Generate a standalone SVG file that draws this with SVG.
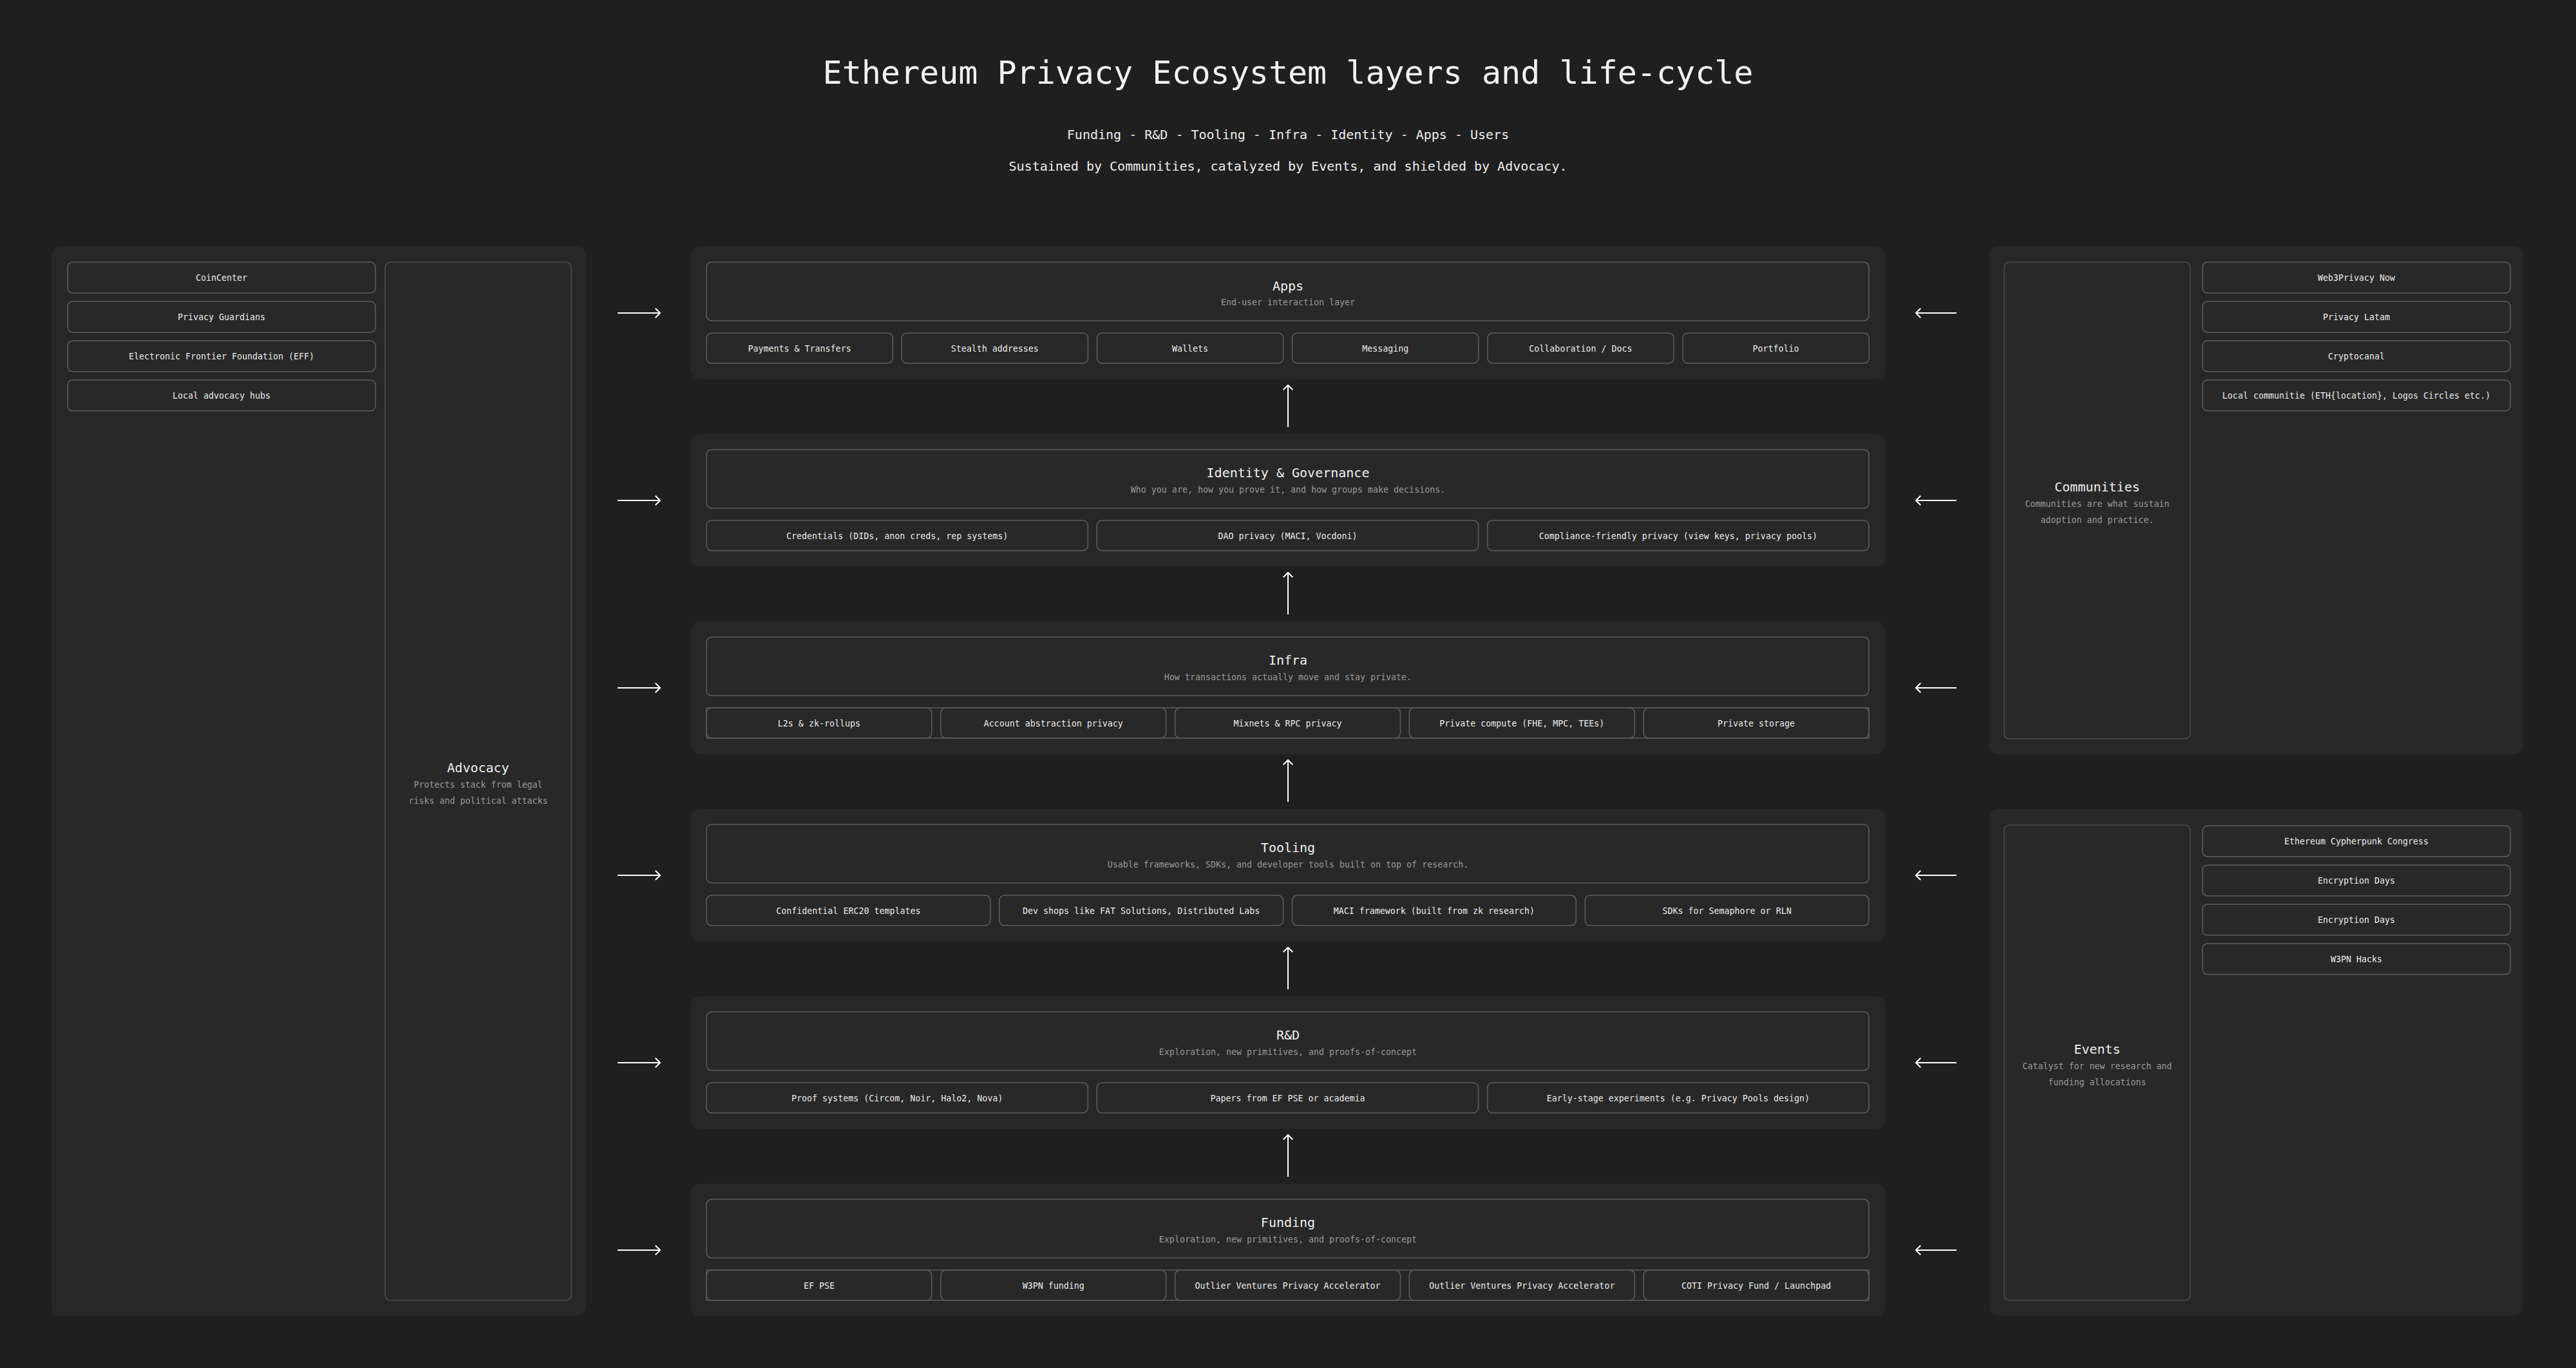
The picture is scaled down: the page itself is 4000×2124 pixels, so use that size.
<svg xmlns="http://www.w3.org/2000/svg" width="4000" height="2124" viewBox="0 0 4000 2124">
<style>
text{font-family:"DejaVu Sans Mono","Liberation Mono",monospace;}
.h1{font-size:50px;fill:#f2f2f2;text-anchor:middle;}
.sub{font-size:20px;fill:#ededed;text-anchor:middle;}
.panel{fill:#272727;}
.hbox{fill:#282828;stroke:#5e5e5e;stroke-width:1.5;}
.item{fill:#282828;stroke:#5e5e5e;stroke-width:1.5;}
.row{fill:none;stroke:#5e5e5e;stroke-width:1.5;}
.tall{fill:#282828;stroke:#595959;stroke-width:1.2;}
.lt{font-size:20px;fill:#f0f0f0;text-anchor:middle;}
.ld{font-size:13.3px;fill:#9a9a9a;text-anchor:middle;}
.it{font-size:13.3px;fill:#ececec;text-anchor:middle;}
.conn line{stroke:#ffffff;stroke-width:2;marker-end:url(#arr);}
</style>
<defs>
<marker id="arr" viewBox="0 0 10 16" refX="9.3" refY="8" markerWidth="10" markerHeight="16" markerUnits="userSpaceOnUse" orient="auto">
<path d="M2,0.7 L9.3,8 L2,15.3" fill="none" stroke="#ffffff" stroke-width="2"/>
</marker>
</defs>
<rect width="4000" height="2124" fill="#1f1f1f"/>

<g id="header">
<text class="h1" x="2000" y="130">Ethereum Privacy Ecosystem layers and life-cycle</text>
<text class="sub" x="2000" y="216">Funding - R&amp;D - Tooling - Infra - Identity - Apps - Users</text>
<text class="sub" x="2000" y="265">Sustained by Communities, catalyzed by Events, and shielded by Advocacy.</text>
</g>

<!-- Advocacy panel -->
<g id="advocacy">
<rect class="panel" x="80" y="383" width="830" height="1660" rx="14"/>
<rect class="tall" x="598" y="407" width="289" height="1612" rx="8"/>
<text class="lt" x="742.5" y="1199">Advocacy</text>
<text class="ld" x="742.5" y="1223">Protects stack from legal</text>
<text class="ld" x="742.5" y="1248">risks and political attacks</text>
<rect class="item" x="105" y="407" width="478" height="48" rx="8"/>
<text class="it" x="344" y="436">CoinCenter</text>
<rect class="item" x="105" y="468" width="478" height="48" rx="8"/>
<text class="it" x="344" y="497">Privacy Guardians</text>
<rect class="item" x="105" y="529" width="478" height="48" rx="8"/>
<text class="it" x="344" y="558">Electronic Frontier Foundation (EFF)</text>
<rect class="item" x="105" y="590" width="478" height="48" rx="8"/>
<text class="it" x="344" y="619">Local advocacy hubs</text>
</g>

<!-- Communities panel -->
<g id="communities">
<rect class="panel" x="3089" y="383" width="829" height="788" rx="14"/>
<rect class="tall" x="3112" y="407" width="289" height="740" rx="8"/>
<text class="lt" x="3256.5" y="763">Communities</text>
<text class="ld" x="3256.5" y="787">Communities are what sustain</text>
<text class="ld" x="3256.5" y="812">adoption and practice.</text>
<rect class="item" x="3420" y="407" width="478" height="48" rx="8"/>
<text class="it" x="3659" y="436">Web3Privacy Now</text>
<rect class="item" x="3420" y="468" width="478" height="48" rx="8"/>
<text class="it" x="3659" y="497">Privacy Latam</text>
<rect class="item" x="3420" y="529" width="478" height="48" rx="8"/>
<text class="it" x="3659" y="558">Cryptocanal</text>
<rect class="item" x="3420" y="590" width="478" height="48" rx="8"/>
<text class="it" x="3659" y="619">Local communitie (ETH{location}, Logos Circles etc.)</text>
</g>

<!-- Events panel -->
<g id="events">
<rect class="panel" x="3089" y="1256" width="829" height="787" rx="14"/>
<rect class="tall" x="3112" y="1281" width="289" height="738" rx="8"/>
<text class="lt" x="3256.5" y="1636">Events</text>
<text class="ld" x="3256.5" y="1660">Catalyst for new research and</text>
<text class="ld" x="3256.5" y="1685">funding allocations</text>
<rect class="item" x="3420" y="1282" width="478" height="48" rx="8"/>
<text class="it" x="3659" y="1311">Ethereum Cypherpunk Congress</text>
<rect class="item" x="3420" y="1343" width="478" height="48" rx="8"/>
<text class="it" x="3659" y="1372">Encryption Days</text>
<rect class="item" x="3420" y="1404" width="478" height="48" rx="8"/>
<text class="it" x="3659" y="1433">Encryption Days</text>
<rect class="item" x="3420" y="1465" width="478" height="48" rx="8"/>
<text class="it" x="3659" y="1494">W3PN Hacks</text>
</g>

<!-- Apps layer -->
<g id="layer-apps">
<rect class="panel" x="1073" y="383" width="1854" height="206" rx="14"/>
<rect class="hbox" x="1097" y="407" width="1805" height="91" rx="8"/>
<text class="lt" x="2000" y="451">Apps</text>
<text class="ld" x="2000" y="474">End-user interaction layer</text>
<rect class="item" x="1097" y="517" width="289.2" height="47" rx="8"/>
<text class="it" x="1241.6" y="546">Payments &amp; Transfers</text>
<rect class="item" x="1400.2" y="517" width="289.2" height="47" rx="8"/>
<text class="it" x="1544.8" y="546">Stealth addresses</text>
<rect class="item" x="1703.4" y="517" width="289.2" height="47" rx="8"/>
<text class="it" x="1848" y="546">Wallets</text>
<rect class="item" x="2006.6" y="517" width="289.2" height="47" rx="8"/>
<text class="it" x="2151.2" y="546">Messaging</text>
<rect class="item" x="2309.8" y="517" width="289.2" height="47" rx="8"/>
<text class="it" x="2454.4" y="546">Collaboration / Docs</text>
<rect class="item" x="2613" y="517" width="289.2" height="47" rx="8"/>
<text class="it" x="2757.6" y="546">Portfolio</text>
</g>

<!-- Identity layer -->
<g id="layer-identity">
<rect class="panel" x="1073" y="674" width="1854" height="206" rx="14"/>
<rect class="hbox" x="1097" y="698" width="1805" height="91" rx="8"/>
<text class="lt" x="2000" y="741">Identity &amp; Governance</text>
<text class="ld" x="2000" y="765">Who you are, how you prove it, and how groups make decisions.</text>
<rect class="item" x="1097" y="808" width="592.3" height="47" rx="8"/>
<text class="it" x="1393.2" y="837">Credentials (DIDs, anon creds, rep systems)</text>
<rect class="item" x="1703.3" y="808" width="592.3" height="47" rx="8"/>
<text class="it" x="1999.5" y="837">DAO privacy (MACI, Vocdoni)</text>
<rect class="item" x="2309.7" y="808" width="592.3" height="47" rx="8"/>
<text class="it" x="2605.8" y="837">Compliance-friendly privacy (view keys, privacy pools)</text>
</g>

<!-- Infra layer -->
<g id="layer-infra">
<rect class="panel" x="1073" y="965" width="1854" height="206" rx="14"/>
<rect class="hbox" x="1097" y="989" width="1805" height="91" rx="8"/>
<text class="lt" x="2000" y="1032">Infra</text>
<text class="ld" x="2000" y="1056">How transactions actually move and stay private.</text>
<rect class="row" x="1097" y="1099" width="1805" height="47"/>
<rect class="item" x="1097" y="1099" width="349.8" height="47" rx="8"/>
<text class="it" x="1271.9" y="1128">L2s &amp; zk-rollups</text>
<rect class="item" x="1460.8" y="1099" width="349.8" height="47" rx="8"/>
<text class="it" x="1635.7" y="1128">Account abstraction privacy</text>
<rect class="item" x="1824.6" y="1099" width="349.8" height="47" rx="8"/>
<text class="it" x="1999.5" y="1128">Mixnets &amp; RPC privacy</text>
<rect class="item" x="2188.4" y="1099" width="349.8" height="47" rx="8"/>
<text class="it" x="2363.3" y="1128">Private compute (FHE, MPC, TEEs)</text>
<rect class="item" x="2552.2" y="1099" width="349.8" height="47" rx="8"/>
<text class="it" x="2727.1" y="1128">Private storage</text>
</g>

<!-- Tooling layer -->
<g id="layer-tooling">
<rect class="panel" x="1073" y="1256" width="1854" height="206" rx="14"/>
<rect class="hbox" x="1097" y="1280" width="1805" height="91" rx="8"/>
<text class="lt" x="2000" y="1323">Tooling</text>
<text class="ld" x="2000" y="1347">Usable frameworks, SDKs, and developer tools built on top of research.</text>
<rect class="item" x="1097" y="1390" width="440.75" height="47" rx="8"/>
<text class="it" x="1317.4" y="1419">Confidential ERC20 templates</text>
<rect class="item" x="1551.75" y="1390" width="440.75" height="47" rx="8"/>
<text class="it" x="1772.1" y="1419">Dev shops like FAT Solutions, Distributed Labs</text>
<rect class="item" x="2006.5" y="1390" width="440.75" height="47" rx="8"/>
<text class="it" x="2226.9" y="1419">MACI framework (built from zk research)</text>
<rect class="item" x="2461.25" y="1390" width="440.75" height="47" rx="8"/>
<text class="it" x="2681.6" y="1419">SDKs for Semaphore or RLN</text>
</g>

<!-- R&D layer -->
<g id="layer-rnd">
<rect class="panel" x="1073" y="1547" width="1854" height="206" rx="14"/>
<rect class="hbox" x="1097" y="1571" width="1805" height="91" rx="8"/>
<text class="lt" x="2000" y="1614">R&amp;D</text>
<text class="ld" x="2000" y="1638">Exploration, new primitives, and proofs-of-concept</text>
<rect class="item" x="1097" y="1681" width="592.3" height="47" rx="8"/>
<text class="it" x="1393.2" y="1710">Proof systems (Circom, Noir, Halo2, Nova)</text>
<rect class="item" x="1703.3" y="1681" width="592.3" height="47" rx="8"/>
<text class="it" x="1999.5" y="1710">Papers from EF PSE or academia</text>
<rect class="item" x="2309.7" y="1681" width="592.3" height="47" rx="8"/>
<text class="it" x="2605.8" y="1710">Early-stage experiments (e.g. Privacy Pools design)</text>
</g>

<!-- Funding layer -->
<g id="layer-funding">
<rect class="panel" x="1073" y="1838" width="1854" height="206" rx="14"/>
<rect class="hbox" x="1097" y="1862" width="1805" height="91" rx="8"/>
<text class="lt" x="2000" y="1905">Funding</text>
<text class="ld" x="2000" y="1929">Exploration, new primitives, and proofs-of-concept</text>
<rect class="row" x="1097" y="1972" width="1805" height="47"/>
<rect class="item" x="1097" y="1972" width="349.8" height="47" rx="8"/>
<text class="it" x="1271.9" y="2001">EF PSE</text>
<rect class="item" x="1460.8" y="1972" width="349.8" height="47" rx="8"/>
<text class="it" x="1635.7" y="2001">W3PN funding</text>
<rect class="item" x="1824.6" y="1972" width="349.8" height="47" rx="8"/>
<text class="it" x="1999.5" y="2001">Outlier Ventures Privacy Accelerator</text>
<rect class="item" x="2188.4" y="1972" width="349.8" height="47" rx="8"/>
<text class="it" x="2363.3" y="2001">Outlier Ventures Privacy Accelerator</text>
<rect class="item" x="2552.2" y="1972" width="349.8" height="47" rx="8"/>
<text class="it" x="2727.1" y="2001">COTI Privacy Fund / Launchpad</text>
</g>

<g id="connectors" class="conn">
<line x1="2000" y1="663" x2="2000" y2="598"/>
<line x1="2000" y1="954" x2="2000" y2="889"/>
<line x1="2000" y1="1245" x2="2000" y2="1180"/>
<line x1="2000" y1="1536" x2="2000" y2="1471"/>
<line x1="2000" y1="1827" x2="2000" y2="1762"/>
<line x1="959" y1="486" x2="1025" y2="486"/>
<line x1="959" y1="777" x2="1025" y2="777"/>
<line x1="959" y1="1068" x2="1025" y2="1068"/>
<line x1="959" y1="1359" x2="1025" y2="1359"/>
<line x1="959" y1="1650" x2="1025" y2="1650"/>
<line x1="959" y1="1941" x2="1025" y2="1941"/>
<line x1="3038" y1="486" x2="2975" y2="486"/>
<line x1="3038" y1="777" x2="2975" y2="777"/>
<line x1="3038" y1="1068" x2="2975" y2="1068"/>
<line x1="3038" y1="1359" x2="2975" y2="1359"/>
<line x1="3038" y1="1650" x2="2975" y2="1650"/>
<line x1="3038" y1="1941" x2="2975" y2="1941"/>
</g>
</svg>
